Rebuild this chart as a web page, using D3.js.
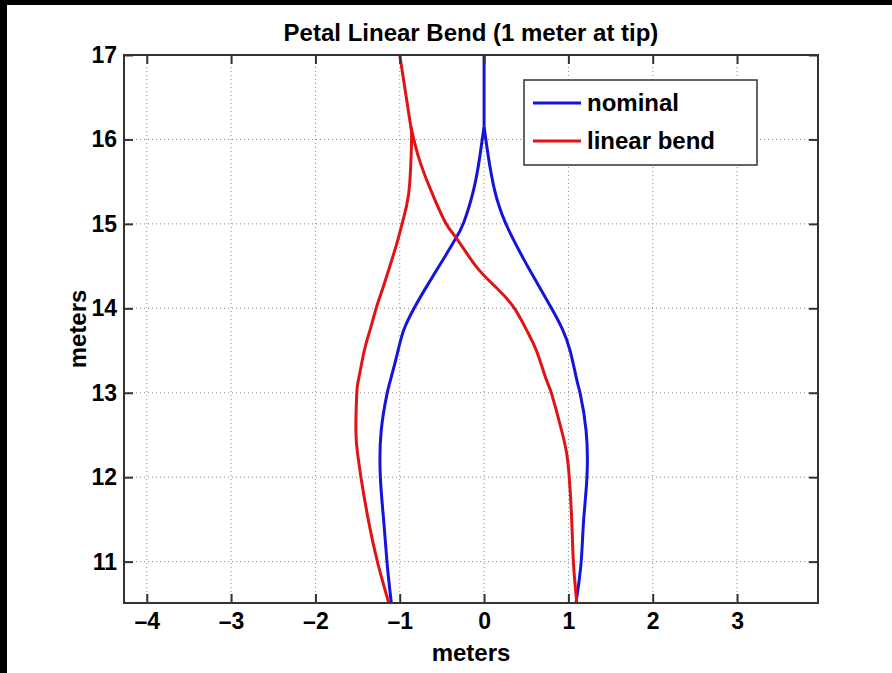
<!DOCTYPE html>
<html>
<head>
<meta charset="utf-8">
<script src="https://cdn.jsdelivr.net/npm/d3@7"></script>
<style>
  body { margin: 0; background: #000; }
  text { font-family: "Liberation Sans", Arial, sans-serif; font-weight: bold; fill: #000; }
</style>
</head>
<body>
<svg id="chart" width="892" height="673"></svg>
<script>
// points are [y, x] in meters
var nominalLeft = [[10.51,-1.10],[10.98,-1.15],[11.48,-1.19],[12.0,-1.23],[12.55,-1.22],[12.99,-1.15],[13.15,-1.11],[13.5,-1.02],[13.75,-0.95],[14.0,-0.83],[14.26,-0.68],[14.62,-0.46],[14.82,-0.34],[15.02,-0.24],[15.42,-0.12],[15.8,-0.05],[16.15,0]]
var nominalStem = [[16.15,0],[17,0]]
var nominalRight = [[16.15,0],[15.8,0.05],[15.42,0.12],[15.02,0.25],[14.62,0.45],[14.42,0.56],[14.0,0.80],[13.75,0.93],[13.5,1.02],[13.15,1.10],[12.99,1.14],[12.55,1.21],[12.0,1.22],[11.48,1.18],[10.98,1.15],[10.51,1.09]]

var bendLeft = [[10.51,-1.13],[10.98,-1.26],[11.48,-1.37],[12.0,-1.46],[12.28,-1.50],[12.55,-1.52],[12.99,-1.51],[13.15,-1.49],[13.5,-1.42],[13.75,-1.35],[14.0,-1.28],[14.24,-1.20],[14.49,-1.12],[14.82,-1.02],[15.21,-0.92],[15.5,-0.88],[16.0,-0.86],[16.16,-0.87]]
var bendStem = [[16.16,-0.87],[17,-1.0]]
var bendRight = [[16.16,-0.87],[15.8,-0.78],[15.42,-0.64],[15.02,-0.46],[14.82,-0.32],[14.49,-0.09],[14.24,0.15],[14.0,0.36],[13.75,0.50],[13.5,0.62],[13.15,0.74],[12.99,0.80],[12.55,0.92],[12.28,0.98],[12.0,1.01],[11.48,1.04],[10.98,1.06],[10.51,1.10]]

var xTicks = [-4,-3,-2,-1,0,1,2,3]
var yTicks = [11,12,13,14,15,16,17]
var seriesNames = ["nominal", "linear bend"]
var seriesColors = ["#1414dc", "#e01414"]

var svg = d3.select("#chart")
var margin = {left: 124, right: 74, top: 55, bottom: 70}
var W = 892, H = 673

svg.append("rect").attr("x", 7).attr("y", 5).attr("width", W - 7).attr("height", H - 5).attr("fill", "#fff")

var x = d3.scaleLinear().domain([-4.27, 3.96]).range([margin.left, W - margin.right])
var y = d3.scaleLinear().domain([10.51, 17]).range([H - margin.bottom, margin.top])

svg.append("clipPath").attr("id", "clip")
  .append("rect")
    .attr("x", x.range()[0]).attr("y", y.range()[1])
    .attr("width", x.range()[1] - x.range()[0])
    .attr("height", y.range()[0] - y.range()[1])

// grid
var grid = svg.append("g").attr("stroke", "#8a8a8a").attr("stroke-width", 1).attr("stroke-dasharray", "1,3")
grid.selectAll(".gx").data(xTicks).enter().append("line")
  .attr("x1", d => x(d)).attr("x2", d => x(d))
  .attr("y1", y.range()[1]).attr("y2", y.range()[0])
grid.selectAll(".gy").data(yTicks).enter().append("line")
  .attr("y1", d => y(d)).attr("y2", d => y(d))
  .attr("x1", x.range()[0]).attr("x2", x.range()[1])

// curves
var line = d3.line()
  .x(d => x(d[1]))
  .y(d => y(d[0]))
  .curve(d3.curveNatural)

var curves = [
  [nominalLeft, nominalStem, nominalRight],
  [bendLeft, bendStem, bendRight]
]

var plot = svg.append("g").attr("clip-path", "url(#clip)")
curves.forEach(function(parts, i) {
  plot.selectAll(".s" + i).data(parts).enter().append("path")
    .attr("class", "s" + i)
    .attr("d", line)
    .attr("fill", "none")
    .attr("stroke", seriesColors[i])
    .attr("stroke-width", 3)
    .attr("stroke-linejoin", "round")
})

// axes (ticks inside, box all round)
var fmt = d => d < 0 ? "\u2013" + Math.abs(d) : String(d)
var tickLen = 9

svg.append("g")
  .attr("transform", `translate(0,${y.range()[0]})`)
  .call(d3.axisBottom(x).tickValues(xTicks).tickSize(-tickLen).tickPadding(10).tickFormat(fmt).tickSizeOuter(0))
  .call(g => g.selectAll("text").attr("font-size", 23).attr("font-family", "Liberation Sans, Arial").attr("font-weight", "bold"))

svg.append("g")
  .attr("transform", `translate(0,${y.range()[1]})`)
  .call(d3.axisTop(x).tickValues(xTicks).tickSize(-tickLen).tickFormat("").tickSizeOuter(0))

svg.append("g")
  .attr("transform", `translate(${x.range()[0]},0)`)
  .call(d3.axisLeft(y).tickValues(yTicks).tickSize(-tickLen).tickPadding(7).tickFormat(fmt).tickSizeOuter(0))
  .call(g => g.selectAll("text").attr("font-size", 23).attr("font-family", "Liberation Sans, Arial").attr("font-weight", "bold"))

svg.append("g")
  .attr("transform", `translate(${x.range()[1]},0)`)
  .call(d3.axisRight(y).tickValues(yTicks).tickSize(-tickLen).tickFormat("").tickSizeOuter(0))

svg.selectAll(".domain").remove()
svg.selectAll(".tick line").attr("stroke", "#333").attr("stroke-width", 2)

svg.append("rect")
  .attr("x", x.range()[0]).attr("y", y.range()[1])
  .attr("width", x.range()[1] - x.range()[0])
  .attr("height", y.range()[0] - y.range()[1])
  .attr("fill", "none").attr("stroke", "#333").attr("stroke-width", 2)

// titles
var cx = (x.range()[0] + x.range()[1]) / 2
svg.append("text").attr("x", cx).attr("y", 41).attr("text-anchor", "middle")
  .attr("font-size", 24).text("Petal Linear Bend (1 meter at tip)")
svg.append("text").attr("x", cx).attr("y", 661).attr("text-anchor", "middle")
  .attr("font-size", 24).text("meters")
svg.append("text").attr("transform", `translate(86,${(y.range()[0] + y.range()[1]) / 2}) rotate(-90)`)
  .attr("text-anchor", "middle").attr("font-size", 24).text("meters")

// legend
var legend = svg.append("g")
legend.append("rect").attr("x", 524).attr("y", 80).attr("width", 233).attr("height", 85)
  .attr("fill", "#fff").attr("stroke", "#333").attr("stroke-width", 1.5)
var item = legend.selectAll(".item").data(seriesNames).enter().append("g")
  .attr("transform", (d, i) => `translate(0,${103 + i * 38})`)
item.append("line").attr("x1", 533).attr("x2", 581)
  .attr("stroke", (d, i) => seriesColors[i]).attr("stroke-width", 3)
item.append("text").attr("x", 587).attr("y", 8).attr("font-size", 24).text(d => d)
</script>
</body>
</html>
